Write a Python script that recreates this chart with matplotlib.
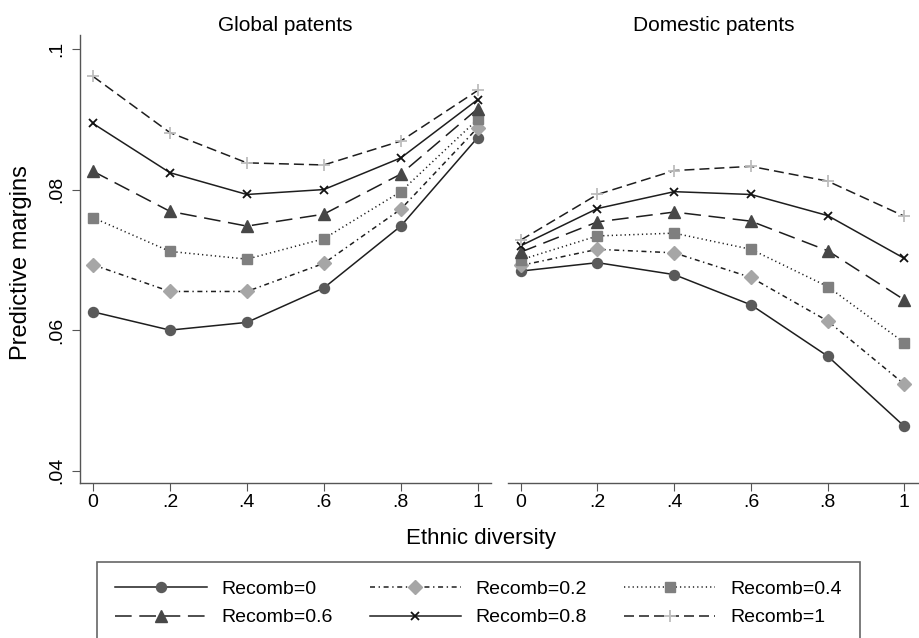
import matplotlib
matplotlib.use("Agg")
import matplotlib.pyplot as plt
from matplotlib.lines import Line2D

plt.rcParams['font.family'] = ['Liberation Sans', 'DejaVu Sans']
plt.rcParams['lines.scale_dashes'] = False

# Data
diversity = [0, 0.2, 0.4, 0.6, 0.8, 1]
recomb_labels = ['Recomb=0', 'Recomb=0.2', 'Recomb=0.4',
                 'Recomb=0.6', 'Recomb=0.8', 'Recomb=1']

global_margins = [
    [0.0626, 0.0600, 0.0611, 0.0660, 0.0748, 0.0874],
    [0.0693, 0.0655, 0.0655, 0.0695, 0.0772, 0.0888],
    [0.0760, 0.0712, 0.0701, 0.0730, 0.0797, 0.0900],
    [0.0826, 0.0769, 0.0748, 0.0765, 0.0822, 0.0915],
    [0.0894, 0.0824, 0.0793, 0.0800, 0.0845, 0.0928],
    [0.0961, 0.0881, 0.0838, 0.0835, 0.0869, 0.0941],
]
domestic_margins = [
    [0.0684, 0.0696, 0.0679, 0.0636, 0.0563, 0.0463],
    [0.0692, 0.0715, 0.0710, 0.0675, 0.0613, 0.0523],
    [0.0700, 0.0734, 0.0738, 0.0715, 0.0662, 0.0582],
    [0.0711, 0.0754, 0.0768, 0.0755, 0.0713, 0.0643],
    [0.0720, 0.0773, 0.0797, 0.0793, 0.0763, 0.0702],
    [0.0728, 0.0793, 0.0827, 0.0833, 0.0812, 0.0762],
]

line_col = '#1e1e1e'
styles = [
    dict(ls='-', marker='o', ms=7.2, mfc='#5a5a5a', mec='#5a5a5a'),
    dict(ls=(0, (3.6, 2.6, 1.0, 2.6)), marker='D', ms=7.0, mfc='#a6a6a6', mec='#a6a6a6'),
    dict(ls=(0, (0.9, 2.2)), marker='s', ms=6.6, mfc='#7f7f7f', mec='#7f7f7f'),
    dict(ls=(0, (12, 5.5)), marker='^', ms=8.5, mfc='#474747', mec='#474747'),
    dict(ls='-', marker='x', ms=6.0, mfc='#111111', mec='#111111', mew=1.3),
    dict(ls=(0, (7.2, 3.6)), marker='+', ms=8.0, mfc='#bdbdbd', mec='#bdbdbd', mew=1.3),
]

spine_col = '#555555'

fig = plt.figure(figsize=(9.19, 6.38), dpi=100)
ax1 = fig.add_axes([80 / 919, 1 - 483 / 638, 410.7 / 919, 448 / 638])
ax2 = fig.add_axes([507.7 / 919, 1 - 483 / 638, 411.3 / 919, 448 / 638])

for ax, data, title in [(ax1, global_margins, 'Global patents'),
                        (ax2, domestic_margins, 'Domestic patents')]:
    for vals, st in zip(data, styles):
        ax.plot(diversity, vals, color=line_col, lw=1.1, **st)
    ax.set_xlim(-0.0338, 1.0338 if ax is ax1 else 1.038)
    ax.set_ylim(0.03825, 0.10199)
    ax.set_xticks(diversity)
    ax.set_xticklabels(['0', '.2', '.4', '.6', '.8', '1'])
    ax.set_title(title, fontsize=15, pad=3)
    for side in ['top', 'right']:
        ax.spines[side].set_visible(False)
    for side in ['left', 'bottom']:
        ax.spines[side].set_color(spine_col)
        ax.spines[side].set_linewidth(1.0)
    ax.tick_params(axis='both', direction='out', length=5.8, width=0.8,
                   color=spine_col, labelsize=14)
    ax.tick_params(axis='x', pad=2)

ax1.set_yticks([0.04, 0.06, 0.08, 0.1])
ax1.set_yticklabels(['.04', '.06', '.08', '.1'], rotation=90, va='center')
ax1.tick_params(axis='y', pad=5)
ax2.spines['left'].set_visible(False)
ax2.set_yticks([])

fig.text(21 / 919, 1 - 263 / 638, 'Predictive margins', rotation=90,
         ha='center', va='center', fontsize=17)
fig.text(481 / 919, 1 - 544 / 638, 'Ethnic diversity', ha='center',
         va='baseline', fontsize=16)

handles = []
for lab, st in zip(recomb_labels, styles):
    handles.append(Line2D([], [], color=line_col, lw=1.1, label=lab, **st))
# legend fills column-wise, reorder so rows read 0, 0.2, 0.4 / 0.6, 0.8, 1
order = [0, 3, 1, 4, 2, 5]
leg = fig.legend([handles[i] for i in order], [recomb_labels[i] for i in order],
                 loc='upper left', bbox_to_anchor=(97 / 919, 1 - 562 / 638),
                 ncol=3, fontsize=14, numpoints=1, handlelength=4.7,
                 handletextpad=0.75, columnspacing=1.9, labelspacing=0.55,
                 borderpad=0.95, borderaxespad=0, fancybox=False, frameon=True)
leg.get_frame().set_edgecolor('#404040')
leg.get_frame().set_linewidth(1.2)

fig.savefig('out.png', dpi=100)
